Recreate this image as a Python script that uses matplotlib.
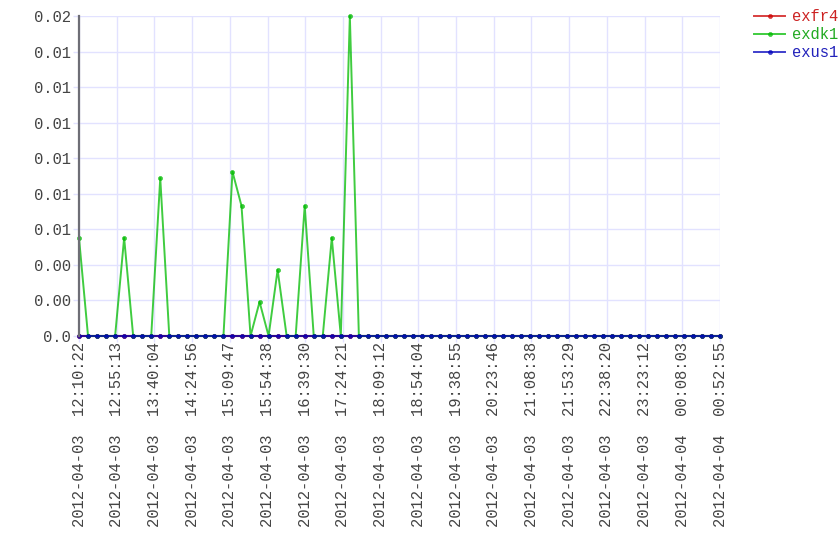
"""Serie temporal exfr4 / exdk1 / exus1 del 2012-04-03."""

import numpy as np
import matplotlib
matplotlib.use('Agg')
import matplotlib.pyplot as plt

# Valores (72 muestras, ~10:44 min entre muestras)
exfr4 = [
    0.0, 0.0, 0.0, 0.0, 0.0, 0.0, 0.0, 0.0, 0.0, 0.0, 0.0, 0.0,
    0.0, 0.0, 0.0, 0.0, 0.0, 0.0, 0.0, 0.0, 0.0, 0.0, 0.0, 0.0,
    0.0, 0.0, 0.0, 0.0, 0.0, 0.0, 0.0, 0.0, 0.0, 0.0, 0.0, 0.0,
    0.0, 0.0, 0.0, 0.0, 0.0, 0.0, 0.0, 0.0, 0.0, 0.0, 0.0, 0.0,
    0.0, 0.0, 0.0, 0.0, 0.0, 0.0, 0.0, 0.0, 0.0, 0.0, 0.0, 0.0,
    0.0, 0.0, 0.0, 0.0, 0.0, 0.0, 0.0, 0.0, 0.0, 0.0, 0.0, 0.0,
]
exdk1 = [
    0.0046, 0.0, 0.0, 0.0, 0.0, 0.0046, 0.0, 0.0, 0.0, 0.0074, 0.0, 0.0,
    0.0, 0.0, 0.0, 0.0, 0.0, 0.0077, 0.0061, 0.0, 0.0016, 0.0, 0.0031, 0.0,
    0.0, 0.0061, 0.0, 0.0, 0.0046, 0.0, 0.0150, 0.0, 0.0, 0.0, 0.0, 0.0,
    0.0, 0.0, 0.0, 0.0, 0.0, 0.0, 0.0, 0.0, 0.0, 0.0, 0.0, 0.0,
    0.0, 0.0, 0.0, 0.0, 0.0, 0.0, 0.0, 0.0, 0.0, 0.0, 0.0, 0.0,
    0.0, 0.0, 0.0, 0.0, 0.0, 0.0, 0.0, 0.0, 0.0, 0.0, 0.0, 0.0,
]
exus1 = [
    0.0, 0.0, 0.0, 0.0, 0.0, 0.0, 0.0, 0.0, 0.0, 0.0, 0.0, 0.0,
    0.0, 0.0, 0.0, 0.0, 0.0, 0.0, 0.0, 0.0, 0.0, 0.0, 0.0, 0.0,
    0.0, 0.0, 0.0, 0.0, 0.0, 0.0, 0.0, 0.0, 0.0, 0.0, 0.0, 0.0,
    0.0, 0.0, 0.0, 0.0, 0.0, 0.0, 0.0, 0.0, 0.0, 0.0, 0.0, 0.0,
    0.0, 0.0, 0.0, 0.0, 0.0, 0.0, 0.0, 0.0, 0.0, 0.0, 0.0, 0.0,
    0.0, 0.0, 0.0, 0.0, 0.0, 0.0, 0.0, 0.0, 0.0, 0.0, 0.0, 0.0,
]

etiquetas_x = [
    "2012-04-03  12:10:22", "2012-04-03  12:55:13", "2012-04-03  13:40:04",
    "2012-04-03  14:24:56", "2012-04-03  15:09:47", "2012-04-03  15:54:38",
    "2012-04-03  16:39:30", "2012-04-03  17:24:21", "2012-04-03  18:09:12",
    "2012-04-03  18:54:04", "2012-04-03  19:38:55", "2012-04-03  20:23:46",
    "2012-04-03  21:08:38", "2012-04-03  21:53:29", "2012-04-03  22:38:20",
    "2012-04-03  23:23:12", "2012-04-04  00:08:03", "2012-04-04  00:52:55",
]
etiquetas_y = ["0.0", "0.00", "0.00", "0.01", "0.01", "0.01",
               "0.01", "0.01", "0.01", "0.02"]

FUENTE = 'Liberation Mono'
GRID = '#e2e2ff'
TEXTO = '#444444'

fig = plt.figure(figsize=(8.4, 5.6), dpi=100)
ax = fig.add_axes([79 / 840, 1 - 336 / 560, 641 / 840, 320 / 560])

x = np.arange(len(exdk1))
series = [
    ('exfr4', exfr4, '#cc0000', '#cc2222'),
    ('exdk1', exdk1, '#00bb00', '#22aa22'),
    ('exus1', exus1, '#0000bb', '#2222bb'),
]
handles = []
for nombre, valores, color, _ in series:
    linea, = ax.plot(x, valores, color=color, alpha=0.75, linewidth=1.4,
                     marker='o', markersize=3, markerfacecolor=color,
                     markeredgecolor=color, markeredgewidth=0.4,
                     label=nombre, zorder=3, clip_on=False)
    handles.append(linea)

ymax = max(exdk1)
ax.set_xlim(0, len(x) - 1)
ax.set_ylim(0, ymax)
ax.set_xticks(np.linspace(0, len(x) - 1, len(etiquetas_x)))
ax.set_xticklabels(etiquetas_x, rotation=90, fontfamily=FUENTE,
                   fontsize=11.2, color=TEXTO)
ax.set_yticks(np.linspace(0, ymax, len(etiquetas_y)))
ax.set_yticklabels(etiquetas_y, fontfamily=FUENTE, fontsize=11.2, color=TEXTO)
ax.tick_params(axis='both', length=4, color=GRID, width=1)
ax.tick_params(axis='x', pad=0.5)
ax.tick_params(axis='y', pad=2)

ax.grid(True, color=GRID, linewidth=1, zorder=0)
ax.set_axisbelow(True)
for lado in ['top', 'right']:
    ax.spines[lado].set_visible(False)
for lado in ['left', 'bottom']:
    ax.spines[lado].set_color('#6e6e76')
    ax.spines[lado].set_linewidth(1.6)
ax.spines['left'].set_zorder(4)
ax.spines['bottom'].set_zorder(2)

leyenda = fig.legend(handles=handles, loc='upper left',
                     bbox_to_anchor=(748 / 840, 1 - 3 / 560),
                     frameon=False, handlelength=2.0, handletextpad=0.4,
                     labelspacing=0.2, borderaxespad=0,
                     prop={'family': FUENTE, 'size': 11.2})
for texto, (_, _, _, col) in zip(leyenda.get_texts(), series):
    texto.set_color(col)

fig.savefig('out.png', dpi=100, facecolor='white')
plt.close(fig)
